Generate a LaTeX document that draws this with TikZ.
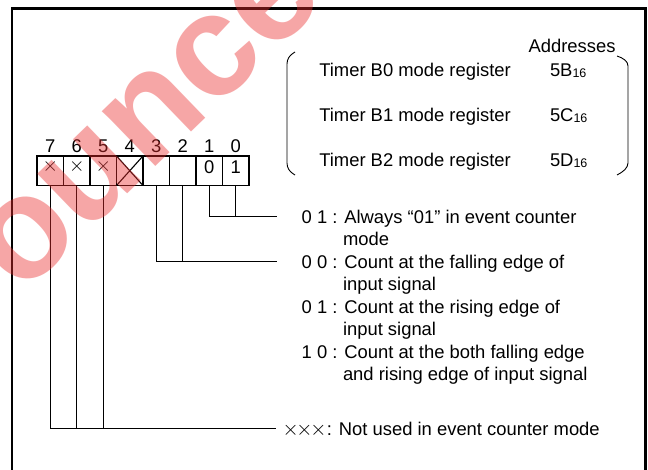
\documentclass[tikz,border=0pt]{standalone}
\usepackage{fontspec}
\setmainfont{Liberation Sans}
\definecolor{wmred}{RGB}{235,45,45}
\newcommand\hexsub[1]{{\fontsize{12.5}{14}\selectfont\raisebox{-1pt}{#1}}}
\newcommand\cellx{\scalebox{1.15}{$\times$}}
\newcommand\rowx{\scalebox{1.2}{$\times$}}
\begin{document}
\begin{tikzpicture}[x=1pt,y=-1pt,
  every node/.style={inner sep=0pt, outer sep=0pt, font=\fontsize{18.4}{22.5}\selectfont},
  cell/.style={draw, line width=1.1pt, minimum width=26.5pt, minimum height=29.5pt},
  lead/.style={line width=1.1pt},
  txt/.style={anchor=base west},
  bitnum/.style={anchor=base},
  bracket/.style={line width=0.9pt}]
\useasboundingbox (0,0) rectangle (648,470);
\fill[white] (0,0) rectangle (648,470);
% frame (open at the bottom)
\draw[line width=2.6pt] (12,472) -- (12,8.5) -- (645.5,8.5) -- (645.5,472);

% register cells and bit numbers
\foreach \b [count=\k from 0] in {7,6,5,4,3,2,1,0} {
  \node[cell] (b\b) at ({37+(\k+0.5)*26.5},170.75) {};
  \node[bitnum] (n\b) at ({37+(\k+0.5)*26.5},152.6) {\b};
}
\node[bitnum] (x7) at (b7.center |- 0,171.5) {\cellx};
\node[bitnum] (x6) at (b6.center |- 0,171.5) {\cellx};
\node[bitnum] (x5) at (b5.center |- 0,171.5) {\cellx};
\draw[lead] (b4.north west) -- (b4.south east) (b4.south west) -- (b4.north east);
\node[bitnum] (v1) at (b1.center |- 0,173.4) {0};
\node[bitnum] (v0) at (b0.center |- 0,173.4) {1};

% leader lines
\coordinate (e10) at (276.7,216.7);
\coordinate (e32) at (276.7,261.7);
\coordinate (e75) at (276,428.8);
\draw[lead] (b1.south) |- (e10);
\draw[lead] (b0.south) -- (b0.south |- e10);
\draw[lead] (b3.south) |- (e32);
\draw[lead] (b2.south) -- (b2.south |- e32);
\draw[lead] (b7.south) |- (e75);
\draw[lead] (b6.south) -- (b6.south |- e75);
\draw[lead] (b5.south) -- (b5.south |- e75);

% descriptions
\node[txt] (t1)  at (301.7,223.3) {0 1 : Always “01” in event counter};
\node[txt] (t1b) at (343,245.8)   {mode};
\node[txt] (t2)  at (301.7,268.3) {0 0 : Count at the falling edge of};
\node[txt] (t2b) at (343,290.8)   {input signal};
\node[txt] (t3)  at (301.7,313.3) {0 1 : Count at the rising edge of};
\node[txt] (t3b) at (343,335.8)   {input signal};
\node[txt] (t4)  at (301.7,358.3) {1 0 : Count at the both falling edge};
\node[txt] (t4b) at (343,380.8)   {and rising edge of input signal};
\node[txt] (t5)  at (282.5,435.4)
  {\rowx\kern-2.2pt\rowx\kern-2.2pt\rowx\hspace{0.5pt}: Not used in event counter mode};

% register / address table
\node[anchor=base east] (addr) at (615.5,53) {Addresses};
\node[txt] (tb0) at (319.3,76.5)  {Timer B0 mode register};
\node[txt] (tb1) at (319.3,121.5) {Timer B1 mode register};
\node[txt] (tb2) at (319.3,166.5) {Timer B2 mode register};
\node[txt] (ab0) at (550,76.5)  {5B\hexsub{16}};
\node[txt] (ab1) at (550,121.5) {5C\hexsub{16}};
\node[txt] (ab2) at (550,166.5) {5D\hexsub{16}};
\draw[bracket] (295,52) .. controls (289.5,55) and (287,59) .. (287,64) -- (287,163)
  .. controls (287,168) and (289.5,172) .. (295,175);
\draw[bracket] (617,56) .. controls (623,58) and (628,61) .. (628,66) -- (628,163)
  .. controls (628,168) and (623,172) .. (617,175);

% watermark
\begin{scope}
\clip (0,0) rectangle (648,470);
\node[rotate=44, text=wmred, opacity=0.42,
  font=\bfseries\fontsize{145}{145}\selectfont] (wm) at (148,121) {ounce};
\end{scope}
\end{tikzpicture}
\end{document}
